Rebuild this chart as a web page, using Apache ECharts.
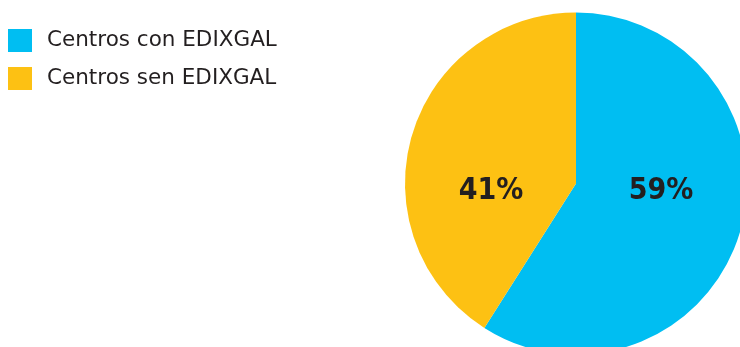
<!DOCTYPE html>
<html>
<head>
<meta charset="utf-8">
<script src="https://cdn.jsdelivr.net/npm/echarts@6/dist/echarts.min.js"></script>
<style>html,body{margin:0;padding:0;background:#fff}#c{width:740px;height:347px}</style>
</head>
<body>
<div id="c"></div>
<script>
const categories = ["Centros con EDIXGAL", "Centros sen EDIXGAL"];
const values = [59, 41];
const colors = ["#00BEF2", "#FDC113"];

const chart = echarts.init(document.getElementById('c'), null, {renderer: 'canvas'});
chart.setOption({
  animation: false,
  color: colors,
  legend: {
    orient: 'vertical',
    left: 8,
    top: 29,
    padding: 0,
    itemWidth: 24,
    itemHeight: 23,
    itemGap: 15,
    icon: 'rect',
    selectedMode: false,
    textStyle: {fontFamily: 'DejaVu Sans', fontSize: 21.5, color: '#231f20', padding: [0, 0, 0, 10]},
    data: categories
  },
  series: [{
    type: 'pie',
    center: [576, 183.5],
    radius: 171,
    startAngle: 90,
    clockwise: true,
    silent: true,
    label: {
      show: true,
      position: 'inner',
      formatter: '{d}%',
      fontFamily: 'DejaVu Sans Condensed',
      fontWeight: 'bold',
      fontSize: 30,
      color: '#231f20'
    },
    labelLine: {show: false},
    labelLayout: function (p) {
      return {y: 191, verticalAlign: 'middle'};
    },
    data: categories.map((n, i) => ({name: n, value: values[i]}))
  }]
});
</script>
</body>
</html>
